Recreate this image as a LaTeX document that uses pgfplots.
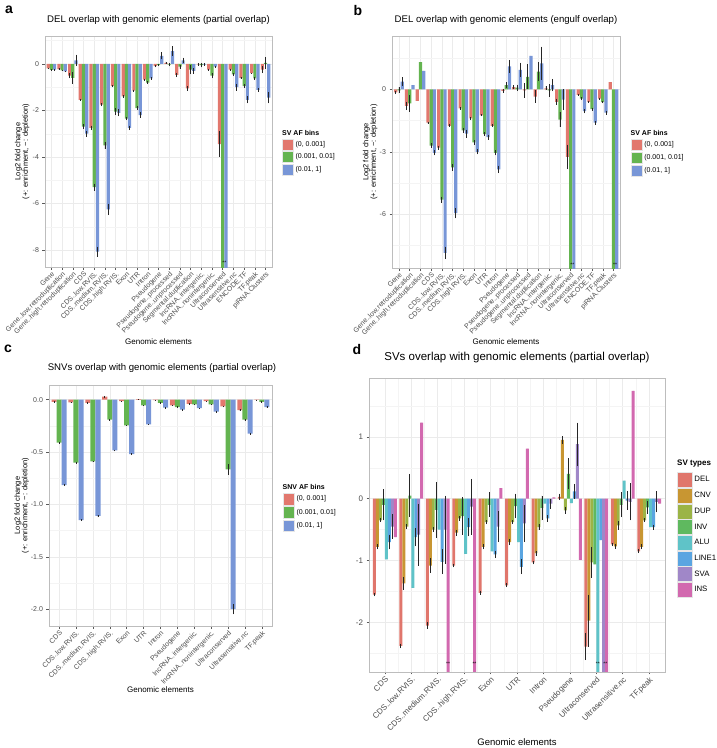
\documentclass[border=0pt]{standalone}
\usepackage{fontspec}
\setmainfont{Liberation Sans}
\usepackage{pgfplots}
\pgfplotsset{compat=1.18}
\usepackage{pgfplotstable}

\definecolor{RED}{HTML}{E2786E}
\definecolor{GRN}{HTML}{64B450}
\definecolor{BLU}{HTML}{7896D7}
\definecolor{cDEL}{HTML}{E0766C}
\definecolor{cCNV}{HTML}{C89632}
\definecolor{cDUP}{HTML}{9BB446}
\definecolor{cINV}{HTML}{5FB95F}
\definecolor{cALU}{HTML}{5FC3C8}
\definecolor{cLIN}{HTML}{5AA5E1}
\definecolor{cSVA}{HTML}{A087C8}
\definecolor{cINS}{HTML}{D269AF}
\definecolor{TXT}{HTML}{4D4D4D}
\definecolor{FRAME}{HTML}{BDBDBD}
\definecolor{GMAJ}{HTML}{EBEBEB}
\definecolor{GMIN}{HTML}{F4F4F4}
\definecolor{KEYB}{HTML}{E6E6E6}

\newcommand{\fs}[1]{\fontsize{#1}{#1}\selectfont}

% panel a: DEL, partial overlap
\pgfplotstableread{
x r re g ge b be
1 -0.19 0.03 -0.26 0.03 -0.25 0.03
2 -0.22 0.03 -0.28 0.03 -0.32 0.03
3 -0.50 0.12 -0.60 0.25 0.15 0.25
4 -1.55 0.05 -2.70 0.10 -3.00 0.12
5 -2.75 0.10 -5.30 0.15 -8.07 0.22
6 -1.75 0.07 -3.50 0.15 -6.25 0.25
7 -0.95 0.05 -2.05 0.15 -2.10 0.15
8 -1.40 0.05 -2.35 0.07 -2.75 0.10
9 -1.15 0.05 -1.90 0.10 -2.20 0.12
10 -0.67 0.03 -0.80 0.05 -0.62 0.05
11 -0.10 0.05 -0.05 0.05 0.35 0.15
12 0.05 0.05 -0.03 0.08 0.55 0.20
13 -0.47 0.10 -0.12 0.08 0.15 0.12
14 -1.05 0.10 -0.25 0.20 -0.30 0.12
15 -0.02 0.05 -0.05 0.10 -0.03 0.05
16 -0.25 0.05 -0.50 0.12 -0.12 0.05
17 -3.45 0.55 -30 0 -30 0
18 -0.25 0.05 -0.45 0.07 -1.00 0.15
19 -0.60 0.05 -0.95 0.08 -1.55 0.15
20 -0.40 0.03 -0.62 0.06 -1.12 0.08
21 -0.25 0.15 0.05 0.25 -1.45 0.25
}\tabA

% panel b: DEL, engulf overlap
\pgfplotstableread{
x r re g ge b be
1 -0.15 0.08 -0.05 0.15 0.37 0.20
2 -0.80 0.20 -0.68 0.40 0.20 0
3 -0.55 0 1.30 0 0.88 0
4 -1.60 0.05 -2.70 0.10 -3.05 0.12
5 -2.80 0.10 -5.30 0.15 -7.85 0.30
6 -1.75 0.07 -3.75 0.15 -5.95 0.25
7 -0.92 0.05 -1.97 0.12 -2.13 0.20
8 -1.40 0.05 -2.55 0.10 -3.00 0.12
9 -1.25 0.05 -2.15 0.10 -2.30 0.12
10 -1.75 0.07 -3.05 0.12 -3.85 0.18
11 -0.07 0.10 0.20 0.15 1.10 0.30
12 0.10 0.10 0.08 0.15 0.93 0.35
13 -0.05 0.35 0.60 0.60 1.60 0
14 -0.35 0.30 0.85 0.45 1.25 0.80
15 0.05 0.10 -0.05 0.30 0.20 0.30
16 -0.60 0.15 -1.45 0.35 -0.50 0.50
17 -3.25 0.60 -30 0 -30 0
18 -0.27 0.05 -0.45 0.07 -1.05 0.10
19 -0.60 0.05 -0.95 0.07 -1.60 0.10
20 -0.45 0.05 -0.62 0.05 -1.12 0.10
21 0.35 0 -30 0 -30 0
}\tabB

% panel c: SNVs
\pgfplotstableread{
x r re g ge b be
1 -0.020 0.004 -0.410 0.008 -0.815 0.010
2 -0.025 0.004 -0.600 0.008 -1.150 0.010
3 -0.030 0.004 -0.590 0.008 -1.110 0.010
4 0.030 0.006 -0.190 0.006 -0.485 0.008
5 -0.015 0.004 -0.245 0.006 -0.520 0.008
6 0.005 0.003 -0.055 0.004 -0.235 0.006
7 -0.005 0.003 -0.030 0.004 -0.075 0.005
8 -0.055 0.005 -0.070 0.005 -0.095 0.006
9 -0.040 0.004 -0.045 0.004 -0.080 0.005
10 -0.015 0.004 -0.045 0.004 -0.115 0.006
11 -0.065 0.008 -0.665 0.050 -2.000 0.050
12 -0.100 0.008 -0.190 0.010 -0.325 0.010
13 -0.003 0.002 -0.020 0.003 -0.070 0.005
}\tabC

% panel d: SV types
\pgfplotstableread{
x del dele cnv cnve dup dupe inv inve alu alue lin line sva svae ins inse
1 -1.55 0.03 -0.78 0.04 -0.35 0.03 -0.10 0.25 -0.98 0 -0.70 0.12 -0.45 0.20 -0.62 0
2 -2.38 0.04 -1.37 0.10 -0.45 0.04 0.05 0.35 -1.44 0 -0.62 0.15 -0.58 0.50 1.23 0
3 -2.05 0.05 -1.08 0.12 -0.50 0.04 -0.18 0.45 -0.50 0 -1.02 0.20 -0.50 0.55 -30 0
4 -1.08 0.03 -0.55 0.05 -0.32 0.04 -0.28 0.30 -0.89 0 -0.46 0.15 -0.13 0.45 -30 0
5 -1.52 0.03 -0.78 0.04 -0.38 0.03 -0.10 0.20 -0.85 0 -0.90 0.06 -0.45 0.25 0.17 0
6 -1.40 0.03 -0.70 0.05 -0.38 0.03 -0.12 0.20 -0.70 0 -1.10 0.12 -0.40 0.30 0.81 0
7 -1.03 0.03 -0.88 0.04 -0.46 0.05 -0.15 0.20 -0.08 0 -0.32 0.05 -0.08 0.08 0.02 0
8 0.03 0.05 0.95 0.06 -0.19 0.05 0.40 0.25 -0.07 0 0.12 0.12 0.88 0.35 -0.99 0
9 -2.39 0.22 -1.97 0.42 -1.03 0.25 -1.06 0 -30 0 -0.67 0 -30 0 -30 0
10 -0.74 0.03 -0.77 0.04 -0.43 0.07 -0.10 0.20 0.29 0 -0.03 0.15 -0.05 0.30 1.74 0
11 -0.85 0.03 -0.78 0.04 -0.35 0.03 -0.14 0.10 -0.46 0 -0.46 0.04 -0.05 0.17 -0.08 0
}\tabD

\pgfplotsset{
  gg/.style={
    scale only axis, anchor=north west,
    axis line style={FRAME, line width=0.6pt},
    tick align=outside, tick pos=left,
    major tick length=2.5pt, minor tick length=0pt,
    tick style={black!65, line width=0.5pt},
    ymajorgrids, yminorgrids, xmajorgrids,
    major grid style={GMAJ, line width=0.5pt},
    minor grid style={GMIN, line width=0.4pt},
    /pgf/number format/assume math mode=true,
    yticklabel style={TXT, font=\fs{7}},
    xticklabel style={TXT, font=\fs{7}, rotate=45, anchor=north east, inner sep=1pt},
    legend style={draw=none, fill=none, font=\fs{7}, anchor=north west,
      inner sep=0pt, row sep=1.3pt, column sep=2pt, nodes={inner sep=0pt}},
    legend cell align=left,
  },
  gbar/.style={ybar, bar width=#1, bar shift=0pt, draw=none, forget plot,
    error bars/y dir=both, error bars/y explicit, error bars/error mark=none,
    error bars/error bar style={black!85, line width=0.8pt}},
}

\begin{document}
\begin{tikzpicture}

% ---------- a ----------
\begin{axis}[gg, at={(45pt,-36pt)}, width=227pt, height=231pt,
  xmin=0.4, xmax=21.6, ymin=-8.73, ymax=1.2,
  ytick={-8,-6,-4,-2,0}, minor ytick={-7,-5,-3,-1,1},
  xtick={1,...,21},
  xticklabels={Gene,Gene..low.retroduplication,Gene..high.retroduplication,CDS,CDS..low.RVIS.,CDS..medium.RVIS.,CDS..high.RVIS.,Exon,UTR,Intron,Pseudogene,Pseudogene..processed,Pseudogene..unprocessed,Segmental.duplication,lncRNA..intergenic.,lncRNA..nonintergenic.,Ultraconserved,Ultrasensitive.nc,ENCODE.TF,TF.peak,piRNA.Clusters},
  ylabel={Log2 fold change\\(+: enrichment, −: depletion)},
  ylabel style={at={(axis description cs:-0.1,0.5)}, anchor=center, align=center, font=\fs{7.5}, black},
  xlabel={Genomic elements},
  xlabel style={at={(axis description cs:0.5,-0.325)}, anchor=center, font=\fs{8}, black},
  legend style={at={(1.044,0.556)}},
  legend image code/.code={\path[#1, draw=KEYB, line width=0.4pt] (0pt,-5.5pt) rectangle (11pt,5.5pt);},
]
\addlegendimage{fill=RED, draw=none}\addlegendentry{(0, 0.001]}
\addlegendimage{fill=GRN, draw=none}\addlegendentry{(0.001, 0.01]}
\addlegendimage{fill=BLU, draw=none}\addlegendentry{(0.01, 1]}
\addplot[gbar=0.3, fill=RED] table[x expr=\thisrow{x}-0.3, y=r, y error=re] {\tabA};
\addplot[gbar=0.3, fill=GRN] table[x=x, y=g, y error=ge] {\tabA};
\addplot[gbar=0.3, fill=BLU] table[x expr=\thisrow{x}+0.3, y=b, y error=be] {\tabA};
\node[font=\fs{5}] at (axis cs:17.15,-8.55) {**};
\end{axis}

% ---------- b ----------
\begin{axis}[gg, at={(392pt,-36pt)}, width=228pt, height=232pt,
  xmin=0.35, xmax=21.6, ymin=-8.58, ymax=2.56,
  ytick={-6,-3,0}, minor ytick={-7.5,-4.5,-1.5,1.5},
  xtick={1,...,21},
  xticklabels={Gene,Gene..low.retroduplication,Gene..high.retroduplication,CDS,CDS..low.RVIS.,CDS..medium.RVIS.,CDS..high.RVIS.,Exon,UTR,Intron,Pseudogene,Pseudogene..processed,Pseudogene..unprocessed,Segmental.duplication,lncRNA..intergenic.,lncRNA..nonintergenic.,Ultraconserved,Ultrasensitive.nc,ENCODE.TF,TF.peak,piRNA.Clusters},
  ylabel={Log2 fold change\\(+: enrichment, −: depletion)},
  ylabel style={at={(axis description cs:-0.096,0.5)}, anchor=center, align=center, font=\fs{7.5}, black},
  xlabel={Genomic elements},
  xlabel style={at={(axis description cs:0.5,-0.319)}, anchor=center, font=\fs{8}, black},
  legend style={at={(1.047,0.556)}},
  legend image code/.code={\path[#1, draw=KEYB, line width=0.4pt] (0pt,-5.5pt) rectangle (11pt,5.5pt);},
]
\addlegendimage{fill=RED, draw=none}\addlegendentry{(0, 0.001]}
\addlegendimage{fill=GRN, draw=none}\addlegendentry{(0.001, 0.01]}
\addlegendimage{fill=BLU, draw=none}\addlegendentry{(0.01, 1]}
\addplot[gbar=0.3, fill=RED] table[x expr=\thisrow{x}-0.3, y=r, y error=re] {\tabB};
\addplot[gbar=0.3, fill=GRN] table[x=x, y=g, y error=ge] {\tabB};
\addplot[gbar=0.3, fill=BLU] table[x expr=\thisrow{x}+0.3, y=b, y error=be] {\tabB};
\node[font=\fs{5}] at (axis cs:17.15,-8.42) {**};
\node[font=\fs{5}] at (axis cs:21.15,-8.42) {**};
\end{axis}

% ---------- c ----------
\begin{axis}[gg, at={(49pt,-385pt)}, width=223pt, height=241pt,
  xmin=0.4, xmax=13.6, ymin=-2.16, ymax=0.14,
  ytick={-2,-1.5,-1,-0.5,0}, minor ytick={-1.75,-1.25,-0.75,-0.25},
  yticklabel style={/pgf/number format/.cd, fixed, fixed zerofill, precision=1},
  xtick={1,...,13},
  xticklabels={CDS,CDS..low.RVIS.,CDS..medium.RVIS.,CDS..high.RVIS.,Exon,UTR,Intron,Pseudogene,lncRNA..intergenic.,lncRNA..nonintergenic.,Ultraconserved,Ultrasensitive.nc,TF.peak},
  ylabel={Log2 fold change\\(+: enrichment, −: depletion)},
  ylabel style={at={(axis description cs:-0.123,0.5)}, anchor=center, align=center, font=\fs{7.5}, black},
  xlabel={Genomic elements},
  xlabel style={at={(axis description cs:0.5,-0.266)}, anchor=center, font=\fs{8}, black},
  legend style={at={(1.048,0.552)}},
  legend image code/.code={\path[#1, draw=KEYB, line width=0.4pt] (0pt,-5.8pt) rectangle (11.3pt,5.8pt);},
]
\addlegendimage{fill=RED, draw=none}\addlegendentry{(0, 0.001]}
\addlegendimage{fill=GRN, draw=none}\addlegendentry{(0.001, 0.01]}
\addlegendimage{fill=BLU, draw=none}\addlegendentry{(0.01, 1]}
\addplot[gbar=0.3, fill=RED] table[x expr=\thisrow{x}-0.3, y=r, y error=re] {\tabC};
\addplot[gbar=0.3, fill=GRN] table[x=x, y=g, y error=ge] {\tabC};
\addplot[gbar=0.3, fill=BLU] table[x expr=\thisrow{x}+0.3, y=b, y error=be] {\tabC};
\end{axis}

% ---------- d ----------
\begin{axis}[gg, at={(369pt,-378pt)}, width=296pt, height=294pt,
  xmin=0.4, xmax=11.6, ymin=-2.8, ymax=1.95,
  ytick={-2,-1,0,1}, minor ytick={-2.5,-1.5,-0.5,0.5,1.5},
  xtick={1,...,11}, minor xtick={1.5,2.5,...,10.5}, xminorgrids,
  yticklabel style={font=\fs{8}},
  xticklabel style={font=\fs{8}},
  xticklabels={CDS,CDS..low.RVIS.,CDS..medium.RVIS.,CDS..high.RVIS.,Exon,UTR,Intron,Pseudogene,Ultraconserved,Ultrasensitive.nc,TF.peak},
  xlabel={Genomic elements},
  xlabel style={at={(axis description cs:0.5,-0.24)}, anchor=center, font=\fs{9.5}, black},
  legend style={at={(1.04,0.68)}, font=\fs{7.8}, row sep=0.3pt},
  legend image code/.code={\path[#1, draw=KEYB, line width=0.4pt] (0pt,-7.5pt) rectangle (15pt,7.5pt);},
]
\addlegendimage{fill=cDEL, draw=none}\addlegendentry{DEL}
\addlegendimage{fill=cCNV, draw=none}\addlegendentry{CNV}
\addlegendimage{fill=cDUP, draw=none}\addlegendentry{DUP}
\addlegendimage{fill=cINV, draw=none}\addlegendentry{INV}
\addlegendimage{fill=cALU, draw=none}\addlegendentry{ALU}
\addlegendimage{fill=cLIN, draw=none}\addlegendentry{LINE1}
\addlegendimage{fill=cSVA, draw=none}\addlegendentry{SVA}
\addlegendimage{fill=cINS, draw=none}\addlegendentry{INS}
\addplot[gbar=0.1125, fill=cDEL] table[x expr=\thisrow{x}-0.39375, y=del, y error=dele] {\tabD};
\addplot[gbar=0.1125, fill=cCNV] table[x expr=\thisrow{x}-0.28125, y=cnv, y error=cnve] {\tabD};
\addplot[gbar=0.1125, fill=cDUP] table[x expr=\thisrow{x}-0.16875, y=dup, y error=dupe] {\tabD};
\addplot[gbar=0.1125, fill=cINV] table[x expr=\thisrow{x}-0.05625, y=inv, y error=inve] {\tabD};
\addplot[gbar=0.1125, fill=cALU] table[x expr=\thisrow{x}+0.05625, y=alu, y error=alue] {\tabD};
\addplot[gbar=0.1125, fill=cLIN] table[x expr=\thisrow{x}+0.16875, y=lin, y error=line] {\tabD};
\addplot[gbar=0.1125, fill=cSVA] table[x expr=\thisrow{x}+0.28125, y=sva, y error=svae] {\tabD};
\addplot[gbar=0.1125, fill=cINS] table[x expr=\thisrow{x}+0.39375, y=ins, y error=inse] {\tabD};
\node[font=\fs{5}] at (axis cs:3.39,-2.67) {**};
\node[font=\fs{5}] at (axis cs:4.39,-2.67) {**};
\node[font=\fs{5}] at (axis cs:9.06,-2.67) {**};
\node[font=\fs{5}] at (axis cs:9.34,-2.67) {**};
\end{axis}

% titles, panel letters, legend titles
\node[font=\fs{14}\bfseries] at (9pt,-10pt) {a};
\node[font=\fs{14}\bfseries] at (358pt,-10pt) {b};
\node[font=\fs{14}\bfseries] at (8pt,-349pt) {c};
\node[font=\fs{14}\bfseries] at (357pt,-349pt) {d};
\node[font=\fs{9.6}] at (158.5pt,-20pt) {DEL overlap with genomic elements (partial overlap)};
\node[font=\fs{9.6}] at (506pt,-20pt) {DEL overlap with genomic elements (engulf overlap)};
\node[font=\fs{9.6}] at (162pt,-368pt) {SNVs overlap with genomic elements (partial overlap)};
\node[font=\fs{11.5}] at (517pt,-358pt) {SVs overlap with genomic elements (partial overlap)};
\node[font=\fs{7}\bfseries, anchor=west, inner sep=0pt] at (282pt,-133pt) {SV AF bins};
\node[font=\fs{7}\bfseries, anchor=west, inner sep=0pt] at (630.5pt,-133pt) {SV AF bins};
\node[font=\fs{7}\bfseries, anchor=west, inner sep=0pt] at (282.5pt,-486.5pt) {SNV AF bins};
\node[font=\fs{8}\bfseries, anchor=west, inner sep=0pt] at (677pt,-464pt) {SV types};

\pgfresetboundingbox
\useasboundingbox (0pt,0pt) rectangle (716pt,-748pt);
\end{tikzpicture}
\end{document}
